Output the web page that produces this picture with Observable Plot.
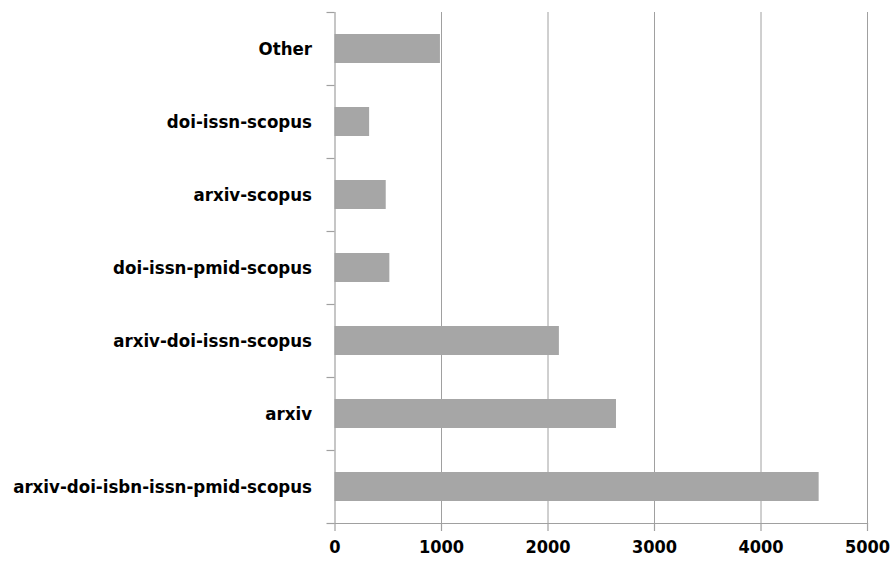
<!DOCTYPE html>
<html>
<head>
<meta charset="utf-8">
<script src="https://cdn.jsdelivr.net/npm/d3@7"></script>
<script src="https://cdn.jsdelivr.net/npm/@observablehq/plot@0.6"></script>
<style>
  html, body { margin: 0; padding: 0; background: #fff; }
  #chart svg { display: block; }
</style>
</head>
<body>
<div id="chart"></div>
<script>
const categories = ["Other", "doi-issn-scopus", "arxiv-scopus", "doi-issn-pmid-scopus", "arxiv-doi-issn-scopus", "arxiv", "arxiv-doi-isbn-issn-pmid-scopus"];
const counts = [990, 325, 481, 515, 2107, 2643, 4546];
const xTicks = [0, 1000, 2000, 3000, 4000, 5000];

const data = categories.map((c, i) => ({category: c, count: counts[i]}));

const W = 892, H = 568;
const mL = 334.5, mR = 25, mT = 12, mB = 45;
const band = (H - mT - mB) / categories.length;
const pxPerUnit = (W - mL - mR) / 5000;
const tickLen = 8 / pxPerUnit;
const FONT = "'DejaVu Sans Condensed', 'DejaVu Sans', sans-serif";

const chart = Plot.plot({
  width: W,
  height: H,
  marginLeft: mL,
  marginRight: mR,
  marginTop: mT,
  marginBottom: mB,
  style: {fontFamily: FONT, fontWeight: "bold", fontSize: "18px", color: "#000", background: "#fff"},
  x: {domain: [0, 5000], ticks: xTicks, label: null},
  y: {domain: categories, paddingInner: 0.6, paddingOuter: 0.3, label: null},
  marks: [
    Plot.ruleX(xTicks.slice(1), {stroke: "#a0a0a0", strokeWidth: 1, strokeOpacity: 1}),
    Plot.barX(data, {y: "category", x: "count", fill: "#a6a6a6"}),
    Plot.ruleX([0], {stroke: "#a0a0a0", strokeWidth: 1.2}),
    Plot.frame({anchor: "bottom", stroke: "#a0a0a0", strokeWidth: 1.2}),
    Plot.ruleY(categories, {y: d => d, x1: -tickLen, x2: 0, dy: -band / 2, stroke: "#a0a0a0", strokeWidth: 1.2}),
    Plot.ruleY(categories.slice(-1), {y: d => d, x1: -tickLen, x2: 0, dy: band / 2, stroke: "#a0a0a0", strokeWidth: 1.2}),
    Plot.axisX({ticks: xTicks, tickSize: 8, tickPadding: 9, stroke: "#a0a0a0", strokeWidth: 1.2, fontSize: 18, fontWeight: "bold", fill: "#000", label: null, tickFormat: d => String(d)}),
    Plot.axisY({tickSize: 0, tickPadding: 23, fontSize: 18.5, fontWeight: "bold", fill: "#000", label: null})
  ]
});
document.getElementById("chart").appendChild(chart);
</script>
</body>
</html>
